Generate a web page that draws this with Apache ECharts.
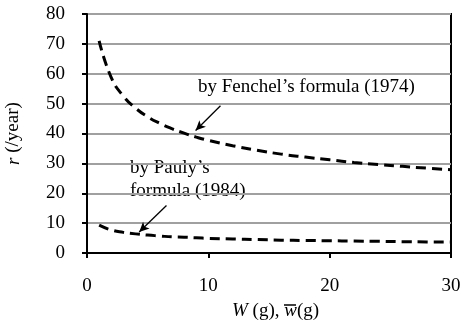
<!DOCTYPE html>
<html>
<head>
<meta charset="utf-8">
<script src="https://cdn.jsdelivr.net/npm/echarts@6/dist/echarts.min.js"></script>
<style>
  html, body { margin: 0; padding: 0; background: #fff; }
  #chart { width: 465px; height: 334px; }
</style>
</head>
<body>
<div id="chart"></div>
<script>
// Body weight W (g)
const weights = [1, 2, 3, 4, 5, 6, 7, 8, 9, 10, 12, 14, 16, 18, 20, 22, 24, 26, 28, 30];
// Intrinsic rate of increase r (/year), Fenchel (1974)
const fenchel = [71, 58.7, 52.5, 48.5, 45.6, 43.4, 41.6, 40.1, 38.8, 37.7, 35.9, 34.4, 33.1, 32.1, 31.2, 30.3, 29.6, 29.0, 28.4, 27.9];
// Intrinsic rate of increase r (/year), Pauly (1984)
const pauly = [9.3, 7.7, 6.9, 6.4, 6.0, 5.7, 5.4, 5.3, 5.1, 4.9, 4.7, 4.5, 4.3, 4.2, 4.1, 4.0, 3.9, 3.8, 3.7, 3.65];

const xTicks = [0, 10, 20, 30];
const yTicks = [0, 10, 20, 30, 40, 50, 60, 70, 80];

// Annotation arrows: [from, to] in data coordinates
const fenchelArrow = [[11.0, 49.3], [8.95, 41.0]];
const paulyArrow = [[6.55, 15.9], [4.3, 7.0]];

const FONT = '"Liberation Serif", "Times New Roman", serif';
const FS = 19;

const pair = (a, b) => weights.map((w, i) => [w, b[i]]);

const chart = echarts.init(document.getElementById('chart'), null, { renderer: 'canvas' });

const dashed = { color: '#000', width: 3, type: [10, 6] };
const arrowLine = (seg) => ({
  silent: true,
  symbol: ['none', 'arrow'],
  symbolSize: [7, 10],
  label: { show: false },
  lineStyle: { color: '#000', width: 1.3, type: 'solid' },
  data: [[{ coord: seg[0] }, { coord: seg[1] }]],
  animation: false
});

chart.setOption({
  animation: false,
  backgroundColor: '#fff',
  grid: {
    left: 87, right: 14, top: 14, bottom: 81,
    outerBoundsMode: 'none', containLabel: false,
    show: true, borderColor: '#000', borderWidth: 2
  },
  xAxis: {
    type: 'value', min: 0, max: 30, interval: 10,
    axisLine: { show: true, onZero: false, lineStyle: { color: '#000', width: 2 } },
    axisTick: { show: true, inside: false, length: 5, lineStyle: { color: '#000', width: 2 } },
    axisLabel: {
      margin: 24, color: '#000', fontFamily: FONT, fontSize: FS,
      customValues: xTicks
    },
    splitLine: { show: false }
  },
  yAxis: {
    type: 'value', min: 0, max: 80, interval: 10,
    name: '{i|r} (/year)',
    nameLocation: 'middle', nameGap: 64, nameRotate: 90,
    nameTextStyle: {
      color: '#000', fontFamily: FONT, fontSize: FS,
      rich: { i: { fontStyle: 'italic', fontFamily: FONT, fontSize: FS, color: '#000' } }
    },
    axisLine: { show: true, lineStyle: { color: '#000', width: 2 } },
    axisTick: { show: true, inside: false, length: 5, lineStyle: { color: '#000', width: 2 } },
    axisLabel: {
      margin: 22, color: '#000', fontFamily: FONT, fontSize: FS,
      customValues: yTicks
    },
    splitLine: { show: true, lineStyle: { color: '#a0a0a0', width: 2 } }
  },
  series: [
    {
      name: 'Fenchel (1974)', type: 'line', data: pair(weights, fenchel),
      smooth: true, showSymbol: false, symbol: 'none',
      lineStyle: dashed, z: 3,
      markLine: arrowLine(fenchelArrow)
    },
    {
      name: 'Pauly (1984)', type: 'line', data: pair(weights, pauly),
      smooth: true, showSymbol: false, symbol: 'none',
      lineStyle: dashed, z: 3,
      markLine: arrowLine(paulyArrow)
    }
  ],
  graphic: [
    {
      type: 'text', x: 198, y: 87,
      style: {
        text: 'by Fenchel\u2019s formula (1974)', font: FS + 'px ' + FONT, fill: '#000',
        verticalAlign: 'middle'
      }
    },
    {
      type: 'text', x: 130, y: 180,
      style: {
        text: 'by Pauly\u2019s\nformula (1984)', font: FS + 'px ' + FONT, fill: '#000',
        lineHeight: 23, verticalAlign: 'middle'
      }
    },
    {
      type: 'text', x: 232, y: 311,
      style: {
        text: '{i|W} (g), {i|w}(g)',
        font: FS + 'px ' + FONT, fill: '#000', verticalAlign: 'middle',
        rich: { i: { fontStyle: 'italic', fontFamily: FONT, fontSize: FS, fill: '#000' } }
      }
    },
    {
      type: 'line', shape: { x1: 284, y1: 305, x2: 296, y2: 305 },
      style: { stroke: '#000', lineWidth: 1.5 }
    }
  ]
});
</script>
</body>
</html>
